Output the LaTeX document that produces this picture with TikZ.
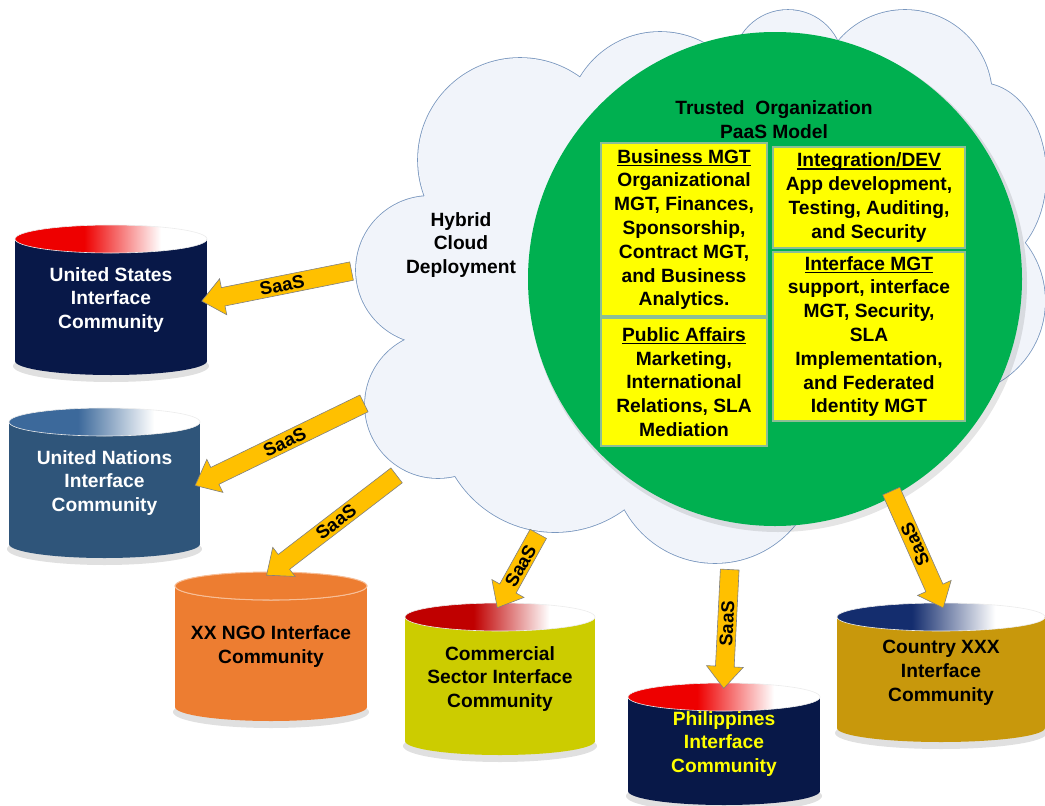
\documentclass[tikz,border=0pt]{standalone}
\usepackage{fontspec}
\setmainfont{Liberation Sans}
\usetikzlibrary{shapes.arrows,calc}

\definecolor{cloudline}{RGB}{120,150,190}
\definecolor{cloudfill}{RGB}{241,244,250}
\definecolor{pgreen}{RGB}{0,176,80}
\definecolor{byellow}{RGB}{255,255,0}
\definecolor{boxline}{RGB}{140,190,150}
\definecolor{saasfill}{RGB}{255,192,0}
\definecolor{saasline}{RGB}{128,128,128}
\definecolor{navy}{RGB}{8,24,72}
\definecolor{unblue}{RGB}{47,85,122}
\definecolor{ngoorange}{RGB}{237,125,49}
\definecolor{ngorim}{RGB}{248,190,150}
\definecolor{comyellow}{RGB}{204,204,0}
\definecolor{ctrygold}{RGB}{200,152,12}
\definecolor{redend}{RGB}{238,0,0}
\definecolor{darkred}{RGB}{192,0,0}
\definecolor{unend}{RGB}{60,105,155}
\definecolor{navyend}{RGB}{20,45,110}
\definecolor{phtext}{RGB}{255,255,0}
\colorlet{endc}{red}

\pgfdeclarehorizontalshading[endc]{cylend}{100bp}{color(0bp)=(endc); color(43bp)=(endc); color(63bp)=(white); color(100bp)=(white)}

\newcommand\ul[1]{\setbox0\hbox{#1}\rlap{\rule[-3pt]{\wd0}{1.3pt}}\box0}

% cx, half width, top-ellipse y, bottom-ellipse y, ry, body colour, end colour
\newcommand\cylshape[7]{%
  \fill[black, opacity=0.12] (#1,#4+5) ellipse[x radius=#2+2, y radius=#5+2];
  \fill[#6] (#1-#2,#3) rectangle (#1+#2,#4);
  \fill[#6] (#1,#4) ellipse[x radius=#2, y radius=#5];
  \colorlet{endc}{#7}%
  \shade[shading=cylend, draw=white!85!gray, line width=0.6pt] (#1,#3) ellipse[x radius=#2, y radius=#5];
}

\def\cloudpath{(430,270) circle[radius=74] (520,160) circle[radius=102] (660,125) circle[radius=93] (788,65) circle[radius=55] (905,97) circle[radius=87] (980,175) ellipse[x radius=66, y radius=92] (951,301) circle[radius=94] (715,460) circle[radius=103] (555,415) circle[radius=117] (438,405) circle[radius=73]}

\begin{document}
\begin{tikzpicture}[x=1pt,y=-1pt,
  every node/.style={font=\bfseries\fontsize{19.2}{23.8}\selectfont},
  ybox/.style={fill=byellow, draw=boxline, line width=1.2pt, align=center, inner sep=0pt},
  cylnode/.style={align=center, inner sep=0pt},
  saasarrow/.style={single arrow, shape border rotate=180, fill=saasfill, draw=saasline,
    line width=0.6pt, single arrow head extend=9pt, single arrow tip angle=80,
    inner xsep=0pt, inner ysep=2.5pt, font=\bfseries\fontsize{18.5}{20}\selectfont,
    midway, sloped, allow upside down}]
\useasboundingbox (0,0) rectangle (1045,806);
\clip (0,0) rectangle (1045,806);
\fill[white] (0,0) rectangle (1045,806);

% cloud
\draw[cloudline, line width=1.6pt] \cloudpath;
\fill[cloudfill] \cloudpath;
\fill[cloudfill] (430,270) -- (520,160) -- (660,125) -- (788,65) -- (905,97) -- (980,175)
  -- (951,301) -- (715,460) -- (555,415) -- (438,405) -- cycle;
\fill[cloudfill] (690,62) -- (700,46) -- (720,42) -- (745,42) -- (765,55) -- cycle;

% green PaaS circle
\fill[black, opacity=0.1] (778,283) circle[radius=249];
\node[circle, fill=pgreen, minimum size=494pt, inner sep=0pt] (paas) at (775,279) {};
\node[align=center] (tom) at (774,120) {Trusted\ \ Organization\\PaaS Model};
\node[align=center] (hcd) at (461,245) {Hybrid\\Cloud\\Deployment};

% yellow boxes
\node[ybox, minimum width=166pt, minimum height=173pt] (bm) at (684,229.5)
  {\ul{Business MGT}\\Organizational\\MGT, Finances,\\Sponsorship,\\Contract MGT,\\and Business\\Analytics.};
\node[ybox, minimum width=166pt, minimum height=128pt] (pa) at (684,382)
  {\ul{Public Affairs}\\Marketing,\\International\\Relations, SLA\\Mediation};
\node[ybox, minimum width=192pt, minimum height=101pt] (id) at (869,197.5)
  {\ul{Integration/DEV}\\App development,\\Testing, Auditing,\\and Security};
\node[ybox, minimum width=192pt, minimum height=169pt] (im) at (869,336.5)
  {\ul{Interface MGT}\\support, interface\\MGT, Security,\\SLA\\Implementation,\\and Federated\\Identity MGT};

% cylinders
\cylshape{111}{96}{239}{361}{14}{navy}{redend}
\node[cylnode, text=white, minimum width=192pt, minimum height=150pt] (us) at (111,300)
  {United States\\Interface\\Community};

\cylshape{104.5}{95.5}{422}{544}{14}{unblue}{unend}
\node[cylnode, text=white, minimum width=191pt, minimum height=150pt] (un) at (104.5,483)
  {United Nations\\Interface\\Community};

\cylshape{271}{96}{586}{707}{14}{ngoorange}{ngoorange}
\filldraw[fill=ngoorange, draw=ngorim, line width=1pt] (271,586) ellipse[x radius=96, y radius=14];
\node[cylnode, text=black, minimum width=192pt, minimum height=149pt] (ngo) at (271,646.5)
  {XX NGO Interface\\Community};

\cylshape{500}{95}{617}{741}{14}{comyellow}{darkred}
\node[cylnode, text=black, minimum width=190pt, minimum height=152pt] (com) at (500,679)
  {Commercial\\Sector Interface\\Community};

\cylshape{724}{96}{697}{791}{14}{navy}{redend}
\node[cylnode, text=phtext, minimum width=192pt, minimum height=122pt] (phl) at (724,744)
  {Philippines\\Interface\\Community};

\cylshape{941}{104}{617}{728}{14}{ctrygold}{navyend}
\node[cylnode, text=black, minimum width=208pt, minimum height=139pt] (ctry) at (941,672.5)
  {Country XXX\\Interface\\Community};

% SaaS arrows (from the cloud to each community)
\coordinate (s1) at (357,270);
\coordinate (s2) at (369,401);
\coordinate (s3) at (401,472);
\coordinate (s4) at (541,529);
\coordinate (s5) at (730,564);
\coordinate (s6) at (889,486);

\foreach \e/\s in {us.east/s1, un.east/s2, ngo.north/s3, com.north/s4, phl.north/s5, ctry.north/s6}
  \path let \p1=($(\s)-(\e)$), \n1={veclen(\x1,\y1)} in
    (\e) -- (\s) node[saasarrow, minimum height=\n1] {SaaS};
\end{tikzpicture}
\end{document}
